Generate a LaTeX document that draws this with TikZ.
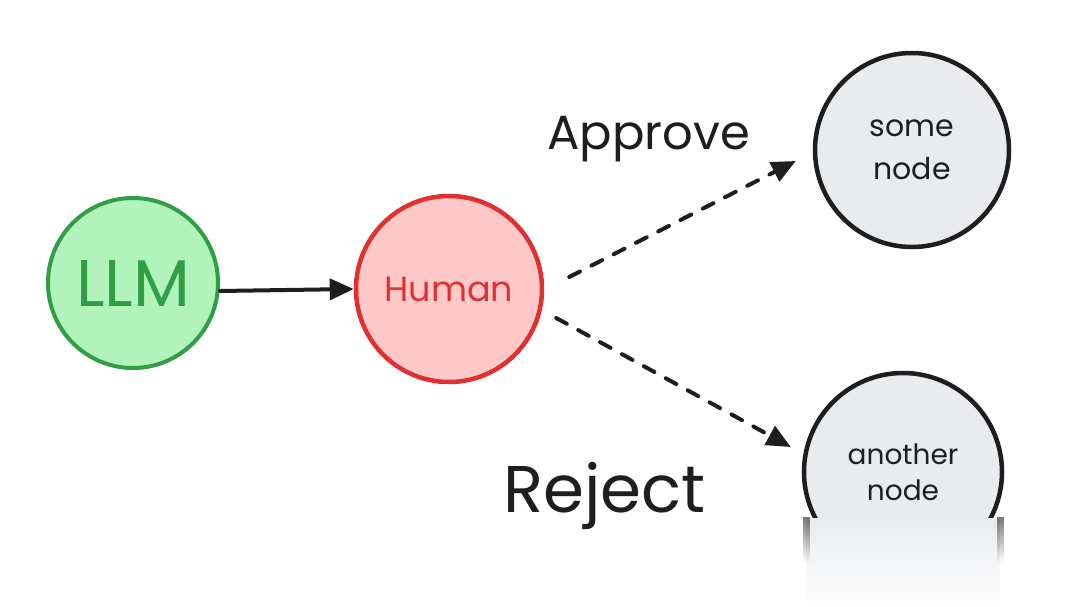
\documentclass[tikz,border=0pt]{standalone}
\usepackage{fontspec}
\setmainfont{Poppins}
\usetikzlibrary{arrows.meta,fadings}
\definecolor{grfill}{HTML}{B2F2BB}
\definecolor{grline}{HTML}{2F9E44}
\definecolor{rdfill}{HTML}{FFC9C9}
\definecolor{rdline}{HTML}{E03131}
\definecolor{gyfill}{HTML}{E9ECEF}
\definecolor{ink}{HTML}{1E1E1E}
\tikzfading[name=fadedown, top color=transparent!0, bottom color=transparent!100]
\begin{document}
\begin{tikzpicture}[x=1pt,y=-1pt,
  circ/.style={circle, inner sep=0pt, line width=4.5pt, align=center},
  llmstyle/.style={circ, line width=4pt, draw=grline, fill=grfill, minimum size=170pt, text=grline},
  humstyle/.style={circ, draw=rdline, fill=rdfill, minimum size=186pt, text=rdline},
  gystyle/.style={circ, draw=ink, fill=gyfill, text=ink},
  lbl/.style={inner sep=0pt, text=ink},
  arr/.style={line width=4pt, draw=ink, line cap=round, -{Triangle[length=24pt,width=21pt]}},
  dasharr/.style={arr, dash pattern=on 12pt off 13pt}]
\useasboundingbox[fill=white] (0,0) rectangle (1080,607);

\node[llmstyle, font={\fontsize{66}{66}\selectfont}] (llm) at (133,283) {LLM};
\node[humstyle, font={\fontsize{35}{35}\selectfont}] (human) at (449,289) {Human};
\node[gystyle, minimum size=194pt, font={\fontsize{30}{43}\selectfont}] (some) at (912,150)
  {some\\node};
\begin{scope}
  \clip (0,0) rectangle (1080,518);
  \node[gystyle, minimum size=198pt, font={\fontsize{28}{36}\selectfont}] (another) at (903,472)
    {another\\node};
\end{scope}
% faded smear below the cut
\fill[gyfill, path fading=fadedown] (806,518) rectangle (1000,607);
\fill[ink, opacity=0.6, path fading=fadedown] (803,517) rectangle (810,562);
\fill[ink, opacity=0.6, path fading=fadedown] (997,517) rectangle (1004,562);

\node[lbl, anchor=base west, font={\fontsize{48}{48}\selectfont}] (approve) at (547,150) {Approve};
\node[lbl, anchor=base west, font={\fontsize{66}{66}\selectfont}] (reject) at (503,512) {Reject};

\draw[arr] ([yshift=-8pt]llm.east) -- (human.west);
\draw[dasharr] ([shift={(25,-12)}]human.east) -- ([shift={(-17,11)}]some.west);
\draw[dasharr] ([shift={(12,29)}]human.east) -- ([shift={(-11,-25)}]another.west);
\end{tikzpicture}
\end{document}
